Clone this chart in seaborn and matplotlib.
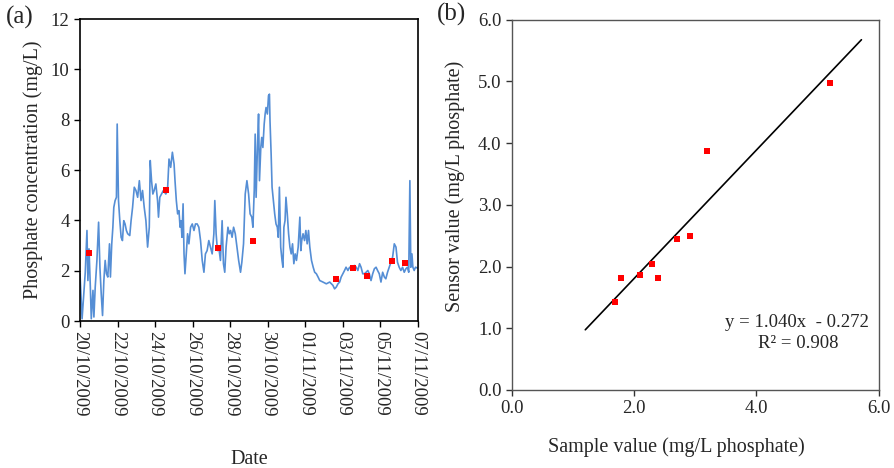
import numpy as np
import pandas as pd
import matplotlib
matplotlib.use("Agg")
import matplotlib.pyplot as plt
import matplotlib.dates as mdates
import seaborn as sns

# ---------------- data ----------------
start_date = "2009-10-20"
# time since start (days) and sensor phosphate concentration (mg/L)
sensor_days = [0.00, 0.11, 0.28, 0.37, 0.42, 0.48, 0.55, 0.60, 0.69, 0.74, 0.81, 0.90, 0.99, 1.06, 1.13, 1.20,
               1.27, 1.34, 1.41, 1.48, 1.57, 1.62, 1.69, 1.75, 1.80, 1.87, 1.94, 1.98, 2.05, 2.12, 2.19, 2.26,
               2.33, 2.40, 2.47, 2.54, 2.65, 2.72, 2.80, 2.89, 2.98, 3.07, 3.16, 3.25, 3.33, 3.42, 3.51, 3.60,
               3.69, 3.74, 3.81, 3.88, 3.95, 4.04, 4.13, 4.18, 4.25, 4.34, 4.44, 4.57, 4.66, 4.74, 4.83, 4.92,
               5.01, 5.06, 5.13, 5.20, 5.27, 5.33, 5.38, 5.43, 5.49, 5.54, 5.59, 5.66, 5.73, 5.80, 5.89, 5.98,
               6.07, 6.15, 6.24, 6.33, 6.42, 6.51, 6.60, 6.68, 6.77, 6.86, 6.95, 7.04, 7.13, 7.18, 7.25, 7.32,
               7.39, 7.48, 7.57, 7.64, 7.71, 7.78, 7.88, 7.95, 8.02, 8.10, 8.18, 8.27, 8.36, 8.45, 8.55, 8.62,
               8.71, 8.80, 8.89, 8.98, 9.06, 9.15, 9.21, 9.28, 9.33, 9.38, 9.45, 9.51, 9.56, 9.63, 9.68, 9.74,
               9.81, 9.86, 9.91, 9.98, 10.04, 10.09, 10.12, 10.18, 10.23, 10.30, 10.37, 10.44, 10.51, 10.56,
               10.62, 10.69, 10.76, 10.81, 10.86, 10.92, 10.97, 11.04, 11.11, 11.18, 11.25, 11.32, 11.39, 11.46,
               11.53, 11.62, 11.71, 11.76, 11.81, 11.88, 11.96, 12.03, 12.10, 12.17, 12.24, 12.33, 12.42, 12.50,
               12.59, 12.68, 12.77, 12.94, 13.12, 13.30, 13.47, 13.56, 13.65, 13.74, 13.83, 13.91, 14.00, 14.09,
               14.17, 14.27, 14.36, 14.44, 14.53, 14.62, 14.71, 14.80, 14.89, 14.97, 15.06, 15.15, 15.24, 15.33,
               15.41, 15.50, 15.59, 15.68, 15.77, 15.85, 15.94, 16.03, 16.12, 16.21, 16.29, 16.38, 16.47, 16.56,
               16.65, 16.74, 16.83, 16.91, 17.00, 17.09, 17.18, 17.27, 17.36, 17.44, 17.51, 17.57, 17.62, 17.68,
               17.73, 17.80, 17.87, 18.00]
sensor_values = [1.88, 0.09, 1.94, 3.60, 1.61, 2.87, 1.35, 0.09, 1.22, 0.16, 1.35, 2.41, 3.93, 2.14, 1.08, 0.22,
                 1.61, 2.41, 1.88, 1.75, 3.07, 1.75, 3.07, 3.73, 4.52, 4.79, 4.92, 7.83, 4.79, 3.99, 3.33, 3.20,
                 3.99, 3.86, 3.60, 3.47, 3.40, 3.99, 4.52, 5.32, 5.19, 4.92, 5.58, 4.79, 5.19, 4.52, 3.99, 2.94,
                 3.73, 6.38, 5.58, 5.05, 5.19, 5.45, 4.79, 4.13, 4.92, 5.05, 5.19, 5.05, 5.19, 6.44, 6.11, 6.71,
                 6.24, 5.58, 4.79, 4.26, 4.39, 3.73, 3.99, 3.33, 4.66, 2.67, 1.88, 2.67, 3.47, 3.07, 3.73, 3.86,
                 3.60, 3.86, 3.86, 3.73, 3.20, 2.41, 1.94, 2.67, 2.80, 3.20, 2.94, 2.67, 3.47, 4.79, 3.47, 2.80,
                 2.94, 2.41, 3.99, 2.28, 1.94, 2.94, 3.73, 3.47, 3.60, 3.33, 3.73, 3.47, 2.94, 2.41, 1.94, 2.34,
                 3.07, 5.05, 5.58, 5.05, 4.26, 4.13, 3.73, 5.19, 7.43, 4.92, 6.90, 8.23, 5.58, 6.90, 7.30, 6.90,
                 7.83, 8.23, 8.49, 8.23, 8.96, 9.02, 7.96, 6.64, 5.32, 4.79, 4.26, 3.86, 3.73, 3.33,
                 5.32, 2.94, 2.41, 2.14, 3.73, 3.99, 4.92, 4.26, 3.47, 2.94, 2.67, 3.07, 2.28, 2.67,
                 2.41, 2.94, 4.13, 2.80, 3.20, 3.47, 3.20, 3.60, 3.07, 3.60, 2.94, 2.41, 2.14, 1.94,
                 1.88, 1.75, 1.61, 1.55, 1.48, 1.55, 1.42, 1.28, 1.35, 1.48, 1.55, 1.75, 1.88, 2.01,
                 2.14, 2.01, 2.14, 2.08, 2.14, 2.21, 2.14, 2.01, 2.28, 2.14, 1.88, 1.88, 1.94, 2.01,
                 1.88, 1.61, 1.88, 2.08, 2.14, 2.01, 1.88, 1.55, 1.94, 1.75, 1.68, 1.94, 2.14, 2.34,
                 2.54, 3.07, 2.94, 2.34, 2.14, 2.01, 2.14, 1.94, 2.08, 2.14, 1.94, 5.58, 2.14, 2.67,
                 2.14, 2.01, 2.14, 2.10]

# grab samples: time since start (days) and lab sample value (mg/L)
sample_days = [0.48, 4.57, 7.37, 9.19, 13.61, 14.53, 15.26, 16.64, 17.29]
sample_values = [2.70, 5.21, 2.91, 3.20, 1.68, 2.09, 1.79, 2.39, 2.29]

# panel (b): sample value vs sensor value
scatter_sample = [1.68, 1.79, 2.09, 2.29, 2.39, 2.70, 2.91, 3.20, 5.21]
scatter_sensor = [1.42, 1.81, 1.86, 2.04, 1.82, 2.45, 2.49, 3.87, 4.98]
fit_slope = 1.040
fit_intercept = -0.272
fit_r2 = 0.908
fit_x_range = [1.2, 5.72]

date_ticks = ["2009-10-20", "2009-10-22", "2009-10-24", "2009-10-26", "2009-10-28",
              "2009-10-30", "2009-11-01", "2009-11-03", "2009-11-05", "2009-11-07"]

# ---------------- figure ----------------
sns.set_style("ticks")
plt.rcParams["font.family"] = ["Liberation Serif", "DejaVu Serif"]
plt.rcParams["font.size"] = 13.5

t0 = pd.Timestamp(start_date)
sensor_df = pd.DataFrame({
    "Date": t0 + pd.to_timedelta(sensor_days, unit="D"),
    "conc": sensor_values,
})
sample_df = pd.DataFrame({
    "Date": t0 + pd.to_timedelta(sample_days, unit="D"),
    "conc": sample_values,
})
scat_df = pd.DataFrame({"sample": scatter_sample, "sensor": scatter_sensor})
fit_df = pd.DataFrame({"x": fit_x_range})
fit_df["y"] = fit_slope * fit_df["x"] + fit_intercept

fig = plt.figure(figsize=(8.94, 4.68), dpi=100)
ax1 = fig.add_axes([0.0895, 0.314, 0.378, 0.645])
ax2 = fig.add_axes([0.5727, 0.1667, 0.410, 0.791])

blue = "#558ED5"
red = "#FF0000"

# panel (a)
sns.lineplot(data=sensor_df, x="Date", y="conc", ax=ax1, color=blue, linewidth=1.2)
sns.scatterplot(data=sample_df, x="Date", y="conc", ax=ax1, marker="s", color=red,
                s=19, linewidth=0, zorder=3)
ax1.set_xlim(pd.Timestamp(date_ticks[0]), pd.Timestamp(date_ticks[-1]))
ax1.set_ylim(0, 12)
ax1.set_yticks(range(0, 13, 2))
ax1.set_xticks([pd.Timestamp(d) for d in date_ticks])
ax1.xaxis.set_major_formatter(mdates.DateFormatter("%d/%m/%Y"))
for lab in ax1.get_xticklabels():
    lab.set_rotation(270)
    lab.set_ha("center")
    lab.set_va("top")
ax1.set_xlabel("Date", fontsize=14.5, labelpad=24)
ax1.set_ylabel("Phosphate concentration (mg/L)", fontsize=14.5, labelpad=6)
ax1.tick_params(labelsize=13.5, length=4, width=1, color="black")
for sp in ax1.spines.values():
    sp.set_visible(True)
    sp.set_color("black")
    sp.set_linewidth(1.2)

# panel (b)
sns.lineplot(data=fit_df, x="x", y="y", ax=ax2, color="black", linewidth=1.2)
sns.scatterplot(data=scat_df, x="sample", y="sensor", ax=ax2, marker="s", color=red,
                s=19, linewidth=0, zorder=3)
ax2.set_xlim(0, 6)
ax2.set_ylim(0, 6)
ax2.set_xticks([0, 2, 4, 6])
ax2.set_yticks(np.arange(0, 7, 1))
ax2.xaxis.set_major_formatter(matplotlib.ticker.FormatStrFormatter("%.1f"))
ax2.yaxis.set_major_formatter(matplotlib.ticker.FormatStrFormatter("%.1f"))
ax2.set_xlabel("Sample value (mg/L phosphate)", fontsize=14.5)
ax2.set_ylabel("Sensor value (mg/L phosphate)", fontsize=14.5)
ax2.xaxis.set_label_coords(0.448, -0.128)
ax2.yaxis.set_label_coords(-0.128, 0.55)
ax2.tick_params(labelsize=13.5, length=4, width=1, color="#333333")
for sp in ax2.spines.values():
    sp.set_visible(True)
    sp.set_color("#555555")
    sp.set_linewidth(1.0)
ax2.text(5.85, 1.1, f"y = {fit_slope:.3f}x  - {abs(fit_intercept):.3f}", ha="right", va="center", fontsize=13.5)
ax2.text(4.68, 0.76, f"R\u00b2 = {fit_r2:.3f}", ha="center", va="center", fontsize=13.5)

fig.text(0.007, 0.962, "(a)", fontsize=18, ha="left", va="center")
fig.text(0.489, 0.970, "(b)", fontsize=18, ha="left", va="center")

fig.savefig("out.png", dpi=100)
